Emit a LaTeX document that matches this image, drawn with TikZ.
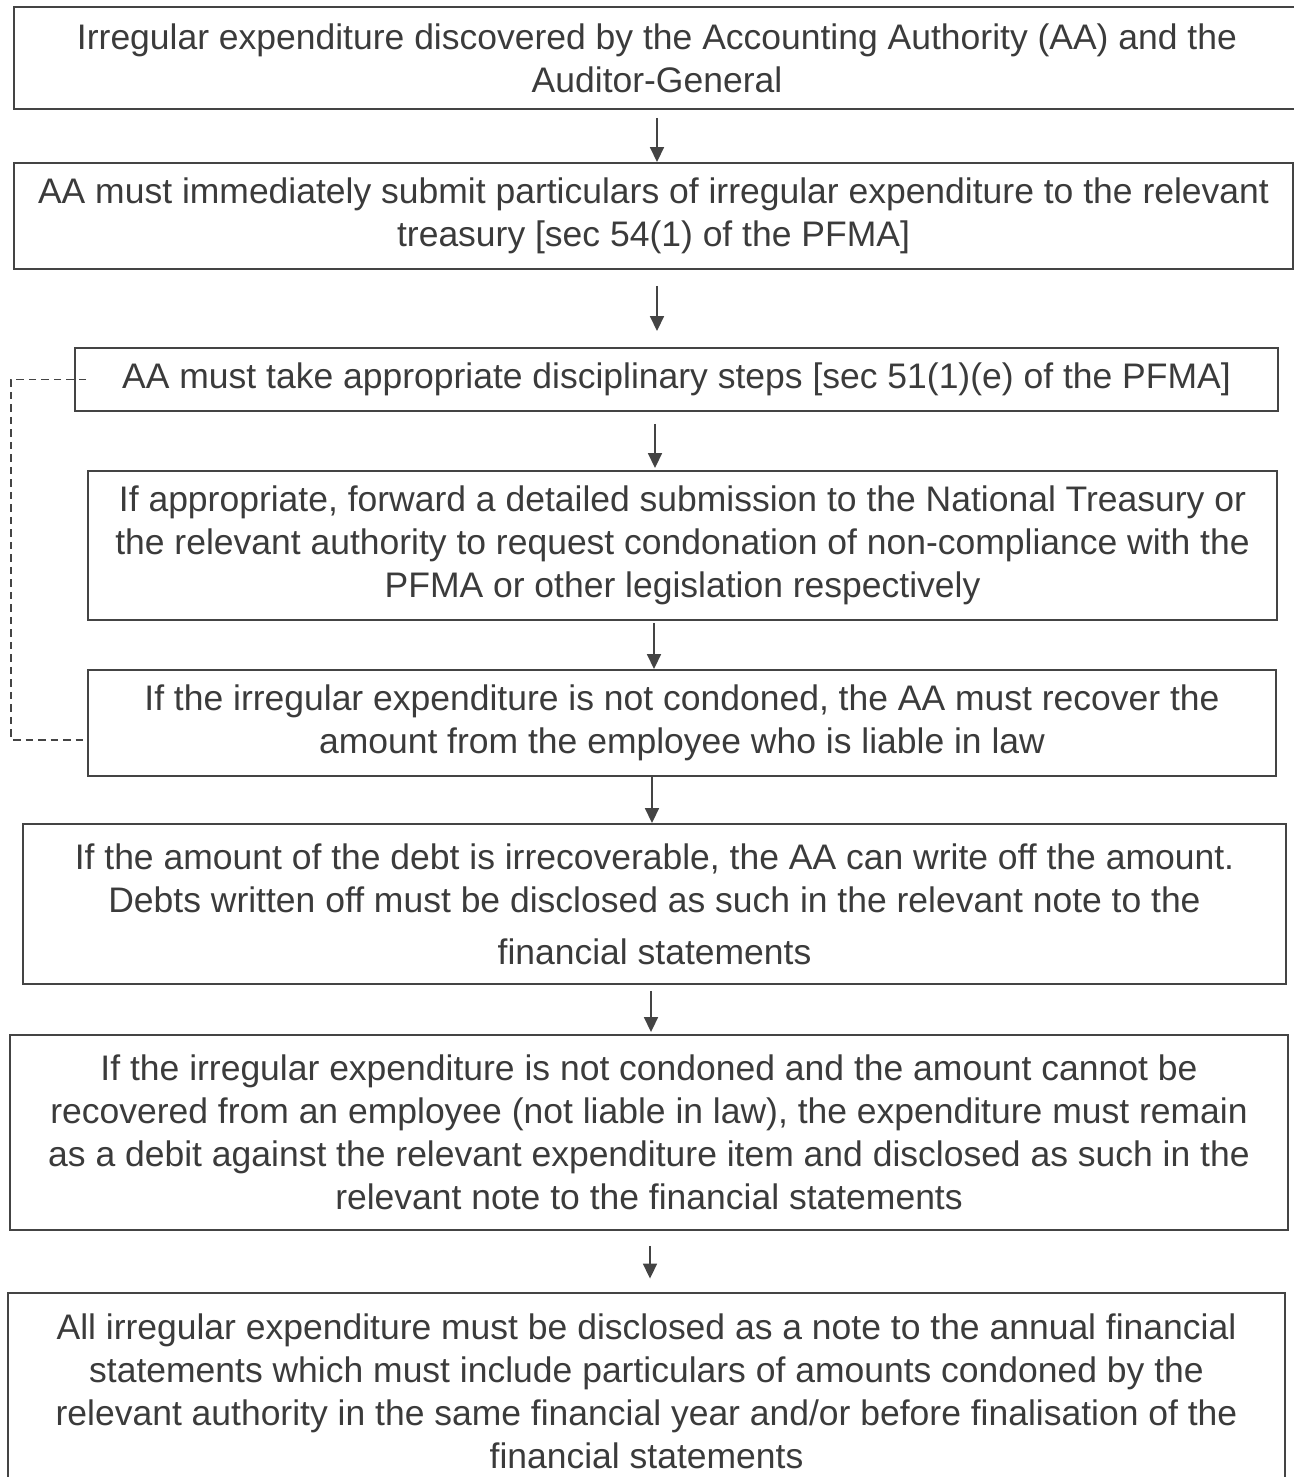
\documentclass[tikz,border=0pt]{standalone}
\usepackage{fontspec}
\setmainfont{Liberation Sans}
\usetikzlibrary{arrows.meta}

\definecolor{ink}{HTML}{3B3B3B}
\definecolor{rule}{HTML}{444444}

\begin{document}
\begin{tikzpicture}[x=0.02cm, y=-0.02cm,
	box/.style={draw=rule, line width=1.1pt, align=center, text=ink, inner sep=0pt, font=\fontsize{20.2}{24.5}\selectfont},
	arr/.style={-{Triangle[length=0.3cm, width=0.28cm]}, color=rule, line width=1pt},
	loopline/.style={color=rule, line width=1pt, dash pattern=on 0.15cm off 0.1cm}]
	\useasboundingbox (0,0) rectangle (1294,1477);
	
	% Kaesten von oben nach unten
	\node[box, minimum width=25.72cm, minimum height=2.04cm] (discovered) at (657,58)
		{Irregular expenditure discovered by the Accounting Authority (AA) and the\\Auditor-General};
	\node[box, minimum width=25.58cm, minimum height=2.12cm] (submit) at (653.5,216)
		{AA must immediately submit particulars of irregular expenditure to the relevant\\treasury [sec 54(1) of the PFMA]};
	\node[box, minimum width=24.06cm, minimum height=1.26cm] (discipline) at (676.5,379.5)
		{AA must take appropriate disciplinary steps [sec 51(1)(e) of the PFMA]};
	\node[box, minimum width=23.78cm, minimum height=2.98cm] (condone) at (682.5,545.5)
		{If appropriate, forward a detailed submission to the National Treasury or\\the relevant authority to request condonation of non-compliance with the\\PFMA or other legislation respectively};
	\node[box, minimum width=23.76cm, minimum height=2.12cm] (recover) at (682,723)
		{If the irregular expenditure is not condoned, the AA must recover the\\amount from the employee who is liable in law};
	\node[box, minimum width=25.26cm, minimum height=3.2cm] (writeoff) at (654.5,904)
		{If the amount of the debt is irrecoverable, the AA can write off the amount.\\Debts written off must be disclosed as such in the relevant note to the\\[0.18cm]financial statements};
	\node[box, minimum width=25.56cm, minimum height=3.9cm] (remain) at (649,1132.5)
		{If the irregular expenditure is not condoned and the amount cannot be\\recovered from an employee (not liable in law), the expenditure must remain\\as a debit against the relevant expenditure item and disclosed as such in the\\relevant note to the financial statements};
	\node[box, minimum width=25.54cm, minimum height=3.96cm] (disclose) at (646.5,1391.5)
		{All irregular expenditure must be disclosed as a note to the annual financial\\statements which must include particulars of amounts condoned by the\\relevant authority in the same financial year and/or before finalisation of the\\financial statements};
	
	% Pfeile
	\draw[arr, shorten <=0.16cm] (discovered.south -| 657,0) -- (submit.north -| 657,0);
	\draw[arr, shorten <=0.32cm, shorten >=0.32cm] (submit.south -| 657,0) -- (discipline.north -| 657,0);
	\draw[arr, shorten <=0.24cm, shorten >=0.04cm] (discipline.south -| 655,0) -- (condone.north -| 655,0);
	\draw[arr, shorten <=0.04cm] (condone.south -| 654,0) -- (recover.north -| 654,0);
	\draw[arr] (recover.south -| 652,0) -- (writeoff.north -| 652,0);
	\draw[arr, shorten <=0.12cm, shorten >=0.04cm] (writeoff.south -| 651,0) -- (remain.north -| 651,0);
	\draw[arr, shorten <=0.3cm, shorten >=0.26cm] (remain.south -| 650,0) -- (disclose.north -| 650,0);
	
	% gestrichelte Rueckfuehrung links
	\draw[loopline] ([xshift=0.24cm]discipline.west) -- ++(-75,0) |- ([yshift=-0.34cm]recover.west);
\end{tikzpicture}
\end{document}
